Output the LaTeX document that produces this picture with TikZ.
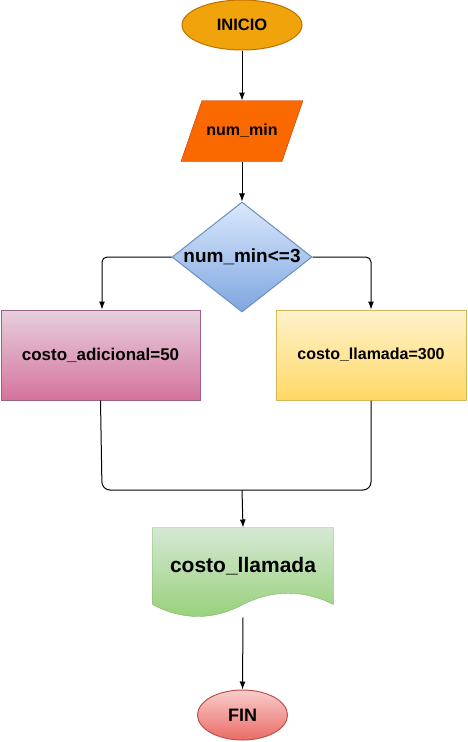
\documentclass[tikz,border=0pt]{standalone}
\usepackage{fontspec}
\setmainfont{Liberation Sans}
\usetikzlibrary{shapes.geometric, calc, backgrounds, arrows.meta}
\definecolor{orangeFill}{RGB}{240, 163, 10}
\definecolor{orangeLine}{RGB}{189, 112, 0}
\definecolor{dataFill}{RGB}{250, 104, 0}
\definecolor{dataLine}{RGB}{199, 53, 0}
\definecolor{blueTop}{RGB}{218, 232, 252}
\definecolor{blueBottom}{RGB}{126, 166, 224}
\definecolor{blueLine}{RGB}{108, 142, 191}
\definecolor{pinkTop}{RGB}{230, 208, 222}
\definecolor{pinkBottom}{RGB}{213, 115, 157}
\definecolor{pinkLine}{RGB}{153, 97, 133}
\definecolor{yellowTop}{RGB}{255, 242, 204}
\definecolor{yellowBottom}{RGB}{255, 217, 102}
\definecolor{yellowLine}{RGB}{214, 182, 86}
\definecolor{greenTop}{RGB}{213, 232, 212}
\definecolor{greenBottom}{RGB}{151, 208, 119}
\definecolor{greenLine}{RGB}{130, 179, 102}
\definecolor{redTop}{RGB}{248, 206, 204}
\definecolor{redBottom}{RGB}{234, 107, 102}
\definecolor{redLine}{RGB}{184, 84, 80}

\begin{document}
\begin{tikzpicture} [
        x=1pt, y=-1pt,
        line width=1pt,
        terminal/.style={draw, ellipse, minimum height=50, inner sep=0, align=center},
        data/.style={minimum width=100, minimum height=60, inner sep=0, font=\fontsize{16}{18}\selectfont\bfseries},
        data shape/.style={fill=dataFill, draw=dataLine},
        decision/.style={draw, diamond, aspect=1.27, minimum width=140, minimum height=110, inner sep=0, top color=blueTop, bottom color=blueBottom, draw=blueLine, font=\fontsize{19}{21}\selectfont\bfseries},
        process/.style={draw, minimum height=90, inner sep=0, align=center},
        output/.style={minimum width=180, minimum height=76, inner sep=0, font=\fontsize{21}{23}\selectfont\bfseries},
        flow/.style={-{Latex[length=8pt, width=6pt]}},
    ]
    \useasboundingbox (0,0) rectangle (467,742);

    \path (242,25) node[terminal, minimum width=120, fill=orangeFill, draw=orangeLine, font=\fontsize{16.5}{18}\selectfont\bfseries] (inicio) {INICIO};
    \path (inicio.south) ++(0,50) node[data, anchor=north] (num min) {num\_min};
    \path (num min.south) ++(0,40) node[decision, anchor=north] (condicion) {num\_min<=3};

    \path (100.5,355) node[process, minimum width=199, top color=pinkTop, bottom color=pinkBottom, draw=pinkLine, font=\fontsize{17}{19}\selectfont\bfseries] (costo adicional) {costo\_adicional=50};
    \path (371,355) node[process, minimum width=190, top color=yellowTop, bottom color=yellowBottom, draw=yellowLine, font=\fontsize{16}{18}\selectfont\bfseries] (costo llamada) {costo\_llamada=300};

    \path (243,566) node[output] (salida) {costo\_llamada};
    \begin{scope}[on background layer]
        \draw[data shape] ($ (num min.north west) + (10.5,0) $) -- ($ (num min.north east) + (10.5,0) $) -- ($ (num min.south east) - (10.5,0) $) -- ($ (num min.south west) - (10.5,0) $) -- cycle;
        \draw[draw=greenLine, top color=greenTop, bottom color=greenBottom] (salida.north west) -- (salida.north east) -- (salida.south east)
            .. controls ($ (salida.south east) + (-30,-15) $) and ($ (salida.south) + (30,-15) $) .. (salida.south)
            .. controls ($ (salida.south) + (-30,16) $) and ($ (salida.south west) + (30,16) $) .. (salida.south west) -- cycle;
    \end{scope}
    \coordinate (salida bottom) at ($ (salida.south) + (0,13) $);

    \path (242.5,715) node[terminal, minimum width=90, top color=redTop, bottom color=redBottom, draw=redLine, font=\fontsize{18}{20}\selectfont\bfseries] (fin) {FIN};

    \draw[flow] (inicio) -- (num min);
    \draw[flow] (num min) -- (condicion);
    \draw[flow, rounded corners=5] (condicion.west) -| ($ (costo adicional.north) + (1.5,0) $);
    \draw[flow, rounded corners=5] (condicion.east) -| (costo llamada.north);

    % union of both branches
    \coordinate (union) at (242,490);
    \draw[rounded corners=8] (costo adicional.south) -- ($ (costo adicional.south|-union) + (1.5,0) $) -- (costo llamada.south|-union) -- (costo llamada.south);
    \draw[flow] (union) -- (salida.north);
    \draw[flow] (salida bottom) -- (fin.north);

\end{tikzpicture}
\end{document}
